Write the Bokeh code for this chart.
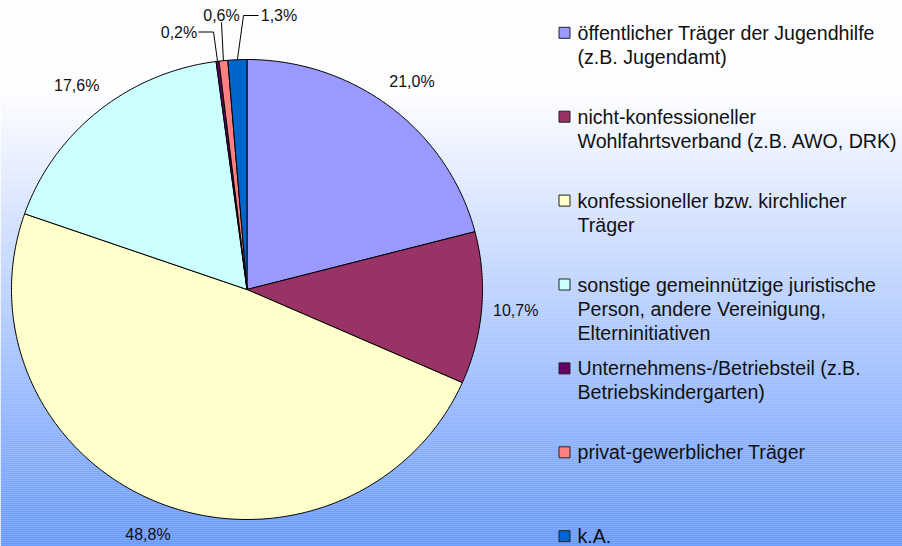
import numpy as np
from bokeh.plotting import figure
from bokeh.models import Range1d
from bokeh.core.properties import value
from bokeh.embed import file_html
from bokeh.resources import INLINE

# ---- data ----
categories = [
    "öffentlicher Träger der Jugendhilfe\n(z.B. Jugendamt)",
    "nicht-konfessioneller\nWohlfahrtsverband (z.B. AWO, DRK)",
    "konfessioneller bzw. kirchlicher\nTräger",
    "sonstige gemeinnützige juristische\nPerson, andere Vereinigung,\nElterninitiativen",
    "Unternehmens-/Betriebsteil (z.B.\nBetriebskindergarten)",
    "privat-gewerblicher Träger",
    "k.A.",
]
shares = [21.0, 10.7, 48.8, 17.6, 0.2, 0.6, 1.3]
colors = ["#9999FF", "#993366", "#FFFFCC", "#CCFFFF", "#660066", "#FF8080", "#0066CC"]

# ---- layout (reference pixel coordinates) ----
W, H = 902, 546
CX, CY, RX, RY = 246.5, 289.0, 235.5, 230.0
FONT = "Liberation Sans"

p = figure(width=W, height=H, output_backend="svg", toolbar_location=None,
           x_range=Range1d(0, W), y_range=Range1d(H, 0),
           min_border=0, outline_line_color=None)
p.axis.visible = False
p.grid.visible = False
p.background_fill_color = "white"
p.border_fill_color = "white"

# background gradient (white -> blue)
bands = np.arange(0, H, 2)
top_c = np.array([253, 253, 255])
bot_c = np.array([104, 153, 255])
bg_cols = []
for y in bands:
    t = np.clip((y + 1 - 95) / (546 - 95), 0, 1)
    c = top_c + (bot_c - top_c) * t
    bg_cols.append("#%02x%02x%02x" % tuple(int(round(v)) for v in c))
p.quad(left=0, right=W, bottom=bands + 2.2, top=bands, fill_color=bg_cols, line_color=None)

# ---- pie slices ----
vals = np.array(shares)
tot = vals.sum()
cum = np.concatenate([[0], np.cumsum(vals)]) / tot * 2 * np.pi
xs, ys = [], []
for i in range(len(vals)):
    a = np.linspace(cum[i], cum[i + 1], max(3, int((cum[i + 1] - cum[i]) * 80)))
    xs.append([CX] + list(CX + RX * np.sin(a)) + [CX])
    ys.append([CY] + list(CY - RY * np.cos(a)) + [CY])
p.patches(xs, ys, fill_color=colors, line_color="black", line_width=1)

def fmt(v):
    return ("%.1f" % v).replace(".", ",") + "%"

mid = (cum[:-1] + cum[1:]) / 2

# big labels placed outside at mid angle
k = 1.145
big = [i for i in range(len(vals)) if vals[i] >= 5]
p.text(x=[CX + k * RX * np.sin(mid[i]) for i in big],
       y=[CY - k * RY * np.cos(mid[i]) for i in big],
       text=[fmt(vals[i]) for i in big],
       text_font=value(FONT), text_font_size="16px", text_color="#111111",
       text_align="center", text_baseline="middle")

# small labels with leader lines
small = [i for i in range(len(vals)) if vals[i] < 5]
small_pos = [(178.5, 31.5), (221.0, 14.5), (278.5, 14.5)]
small_bend = [[(198, 31.5), (213, 31.5)], [(221, 22)], [(258, 15), (243, 15)]]
for j, i in enumerate(small):
    lx, ly = small_pos[j]
    p.text(x=[lx], y=[ly], text=[fmt(vals[i])], text_font=value(FONT),
           text_font_size="16px", text_color="#111111",
           text_align="center", text_baseline="middle")
    pts = small_bend[j] + [(CX + RX * np.sin(mid[i]), CY - RY * np.cos(mid[i]))]
    p.line([q[0] for q in pts], [q[1] for q in pts], line_color="black", line_width=1)

# ---- legend ----
LX, LY0, LSTEP, LLINE = 564, 32.3, 83.9, 24
ly = [LY0 + i * LSTEP for i in range(len(categories))]
p.rect(x=[LX] * len(categories), y=ly, width=11, height=11,
       fill_color=colors, line_color="#222222", line_width=1)
tx, ty, tt = [], [], []
for i, c in enumerate(categories):
    for j, line in enumerate(c.split("\n")):
        tx.append(LX + 13)
        ty.append(ly[i] + j * LLINE)
        tt.append(line)
p.text(x=tx, y=ty, text=tt, text_font=value(FONT), text_font_size="19.6px",
       text_color="#111111", text_align="left", text_baseline="middle")

open("out.html", "w").write(file_html(p, INLINE))
